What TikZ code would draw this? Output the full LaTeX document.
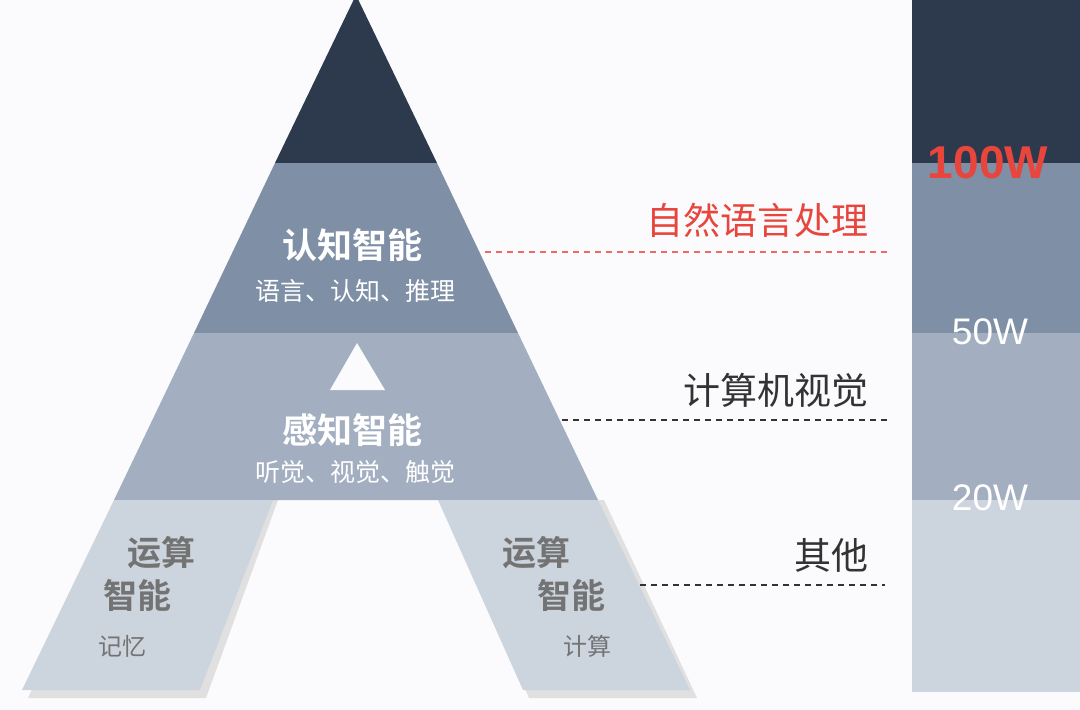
\documentclass[tikz,border=0pt]{standalone}
\usepackage{fontspec}
\setmainfont{Liberation Sans}
\newfontfamily\cjk{Noto Sans CJK SC}
\newfontfamily\cjkb{Noto Sans CJK SC Bold}
\definecolor{c1}{HTML}{2D3A4E}
\definecolor{c2}{HTML}{7E8FA6}
\definecolor{c3}{HTML}{A3AFC0}
\definecolor{c4}{HTML}{CCD4DE}
\definecolor{bg}{HTML}{FBFBFD}
\definecolor{rd}{HTML}{E8453C}
\definecolor{tx}{HTML}{333333}
\begin{document}
\begin{tikzpicture}[x=1pt,y=-1pt,
  ttl/.style={font=\cjkb\fontsize{35}{35}\selectfont,text=white},
  sub/.style={font=\cjk\fontsize{25}{25}\selectfont,text=white},
  leg/.style={font=\cjkb\fontsize{34}{38}\selectfont,text=gray!90!black,align=left},
  legs/.style={font=\cjk\fontsize{24}{24}\selectfont,text=gray!90!black},
  rl/.style={font=\cjk\fontsize{37}{37}\selectfont,text=tx,anchor=east},
  wl/.style={font=\fontsize{37}{37}\selectfont,text=white},
  dl/.style={dashed,line width=1.2pt,dash pattern=on 6pt off 5pt}]
\fill[bg] (0,0) rectangle (1080,710);
\useasboundingbox (0,0) rectangle (1080,710);
% shadows
\fill[black!12] (119,500) -- (278,500) -- (206,698) -- (28,698) -- cycle;
\fill[black!12] (444,500) -- (604,500) -- (697,698) -- (529,698) -- cycle;
% bands
\fill[c1] (356,-5) -- (437,163) -- (275,163) -- cycle;
\fill[c2] (275,163) -- (437,163) -- (518,333) -- (194,333) -- cycle;
\fill[c3] (194,333) -- (518,333) -- (598,500) -- (114,500) -- cycle;
\fill[bg] (357,343) -- (385,390) -- (330,390) -- cycle;
\fill[c4] (114,500) -- (273,500) -- (200,690) -- (22,690) -- cycle;
\fill[c4] (438,500) -- (598,500) -- (690,690) -- (523,690) -- cycle;
% bar
\fill[c1] (912,0) rectangle (1080,163);
\fill[c2] (912,163) rectangle (1080,333);
\fill[c3] (912,333) rectangle (1080,500);
\fill[c4] (912,500) rectangle (1080,692);
\node[font=\bfseries\fontsize{46}{46}\selectfont,text=rd] (w100) at (988,163) {100W};
\node[wl] (w50) at (990,332) {50W};
\node[wl] (w20) at (990,498) {20W};
% texts
\node[ttl] (t1) at (352,245) {认知智能};
\node[sub] (s1) at (355,291) {语言、认知、推理};
\node[ttl] (t2) at (352,430) {感知智能};
\node[sub] (s2) at (355,472) {听觉、视觉、触觉};
\node[leg,anchor=north west] (l1a) at (124,533) {运算};
\node[leg,anchor=north west] (l1b) at (100,576) {智能};
\node[legs] (l1c) at (122,646) {记忆};
\node[leg,anchor=north west] (l2a) at (499,533) {运算};
\node[leg,anchor=north west] (l2b) at (534,576) {智能};
\node[legs] (l2c) at (587,646) {计算};
\node[rl,text=rd] (r1) at (872,220) {自然语言处理};
\node[rl] (r2) at (872,390) {计算机视觉};
\node[rl] (r3) at (872,555) {其他};
\coordinate (e1a) at (485,252); \coordinate (e1b) at (888,252);
\coordinate (e2a) at (562,420); \coordinate (e2b) at (888,420);
\coordinate (e3a) at (640,585); \coordinate (e3b) at (885,585);
\draw[dl,rd!80] (e1a) -- (e1b);
\draw[dl,tx] (e2a) -- (e2b);
\draw[dl,tx] (e3a) -- (e3b);
\end{tikzpicture}
\end{document}
